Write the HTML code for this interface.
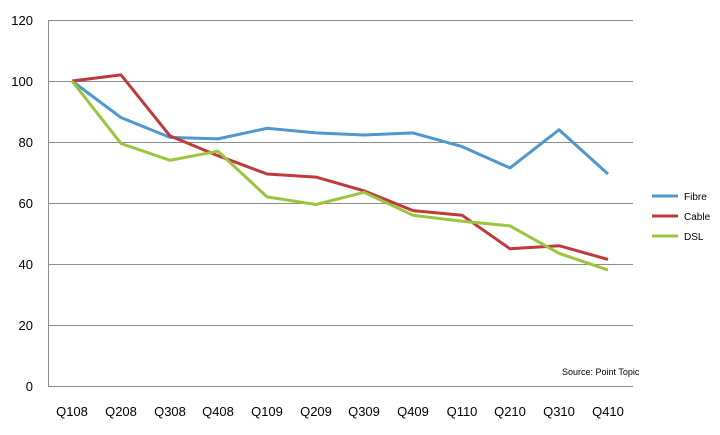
<!DOCTYPE html>
<html><head><style>body{margin:0;background:#fff}svg text{font-family:"Liberation Sans",sans-serif}</style></head><body>
<svg width="720" height="430" xmlns="http://www.w3.org/2000/svg">
<g stroke="#8c8c8c" stroke-width="1">
<line x1="48" y1="20.5" x2="633" y2="20.5"/>
<line x1="48" y1="81.5" x2="633" y2="81.5"/>
<line x1="48" y1="142.5" x2="633" y2="142.5"/>
<line x1="48" y1="203.5" x2="633" y2="203.5"/>
<line x1="48" y1="264.5" x2="633" y2="264.5"/>
<line x1="48" y1="325.5" x2="633" y2="325.5"/>
<line x1="48" y1="386.5" x2="633" y2="386.5"/>
<line x1="48.5" y1="20" x2="48.5" y2="387"/>
</g>
<g font-size="13" fill="#000" text-anchor="end">
<text x="33" y="25">120</text><text x="33" y="86">100</text><text x="33" y="147">80</text>
<text x="33" y="208">60</text><text x="33" y="269">40</text><text x="33" y="330">20</text><text x="33" y="391">0</text>
</g>
<g font-size="13" fill="#000" text-anchor="middle">
<text x="72" y="416">Q108</text><text x="121" y="416">Q208</text><text x="170" y="416">Q308</text>
<text x="218" y="416">Q408</text><text x="267" y="416">Q109</text><text x="316" y="416">Q209</text>
<text x="364" y="416">Q309</text><text x="413" y="416">Q409</text><text x="462" y="416">Q110</text>
<text x="510" y="416">Q210</text><text x="559" y="416">Q310</text><text x="608" y="416">Q410</text>
</g>
<text x="562" y="375" font-size="9">Source: Point Topic</text>
<g fill="none" stroke-width="3" stroke-linejoin="round">
<polyline stroke="#4f97cc" points="72,81 121,117.6 170,137.4 218,138.9 267,128.3 316,132.9 364,135 413,132.9 462,146.6 510,167.9 559,129.8 608,174"/>
<polyline stroke="#c0393b" points="72,81 121,74.9 170,135.9 218,155.7 267,174 316,177.1 364,190.8 413,210.6 462,215.2 510,248.8 559,245.7 608,259.4"/>
<polyline stroke="#9bc53d" points="72,81 121,143.5 170,160.3 218,151.2 267,196.9 316,204.5 364,192.3 413,215.2 462,221.3 510,225.9 559,253.3 608,270.1"/>
</g>
<g stroke-width="3">
<line x1="652" y1="196" x2="678" y2="196" stroke="#4f97cc"/>
<line x1="652" y1="216" x2="678" y2="216" stroke="#c0393b"/>
<line x1="652" y1="236" x2="678" y2="236" stroke="#9bc53d"/>
</g>
<g font-size="10" fill="#000">
<text x="684" y="200">Fibre</text><text x="684" y="220">Cable</text><text x="684" y="240">DSL</text>
</g>
</svg>
</body></html>
